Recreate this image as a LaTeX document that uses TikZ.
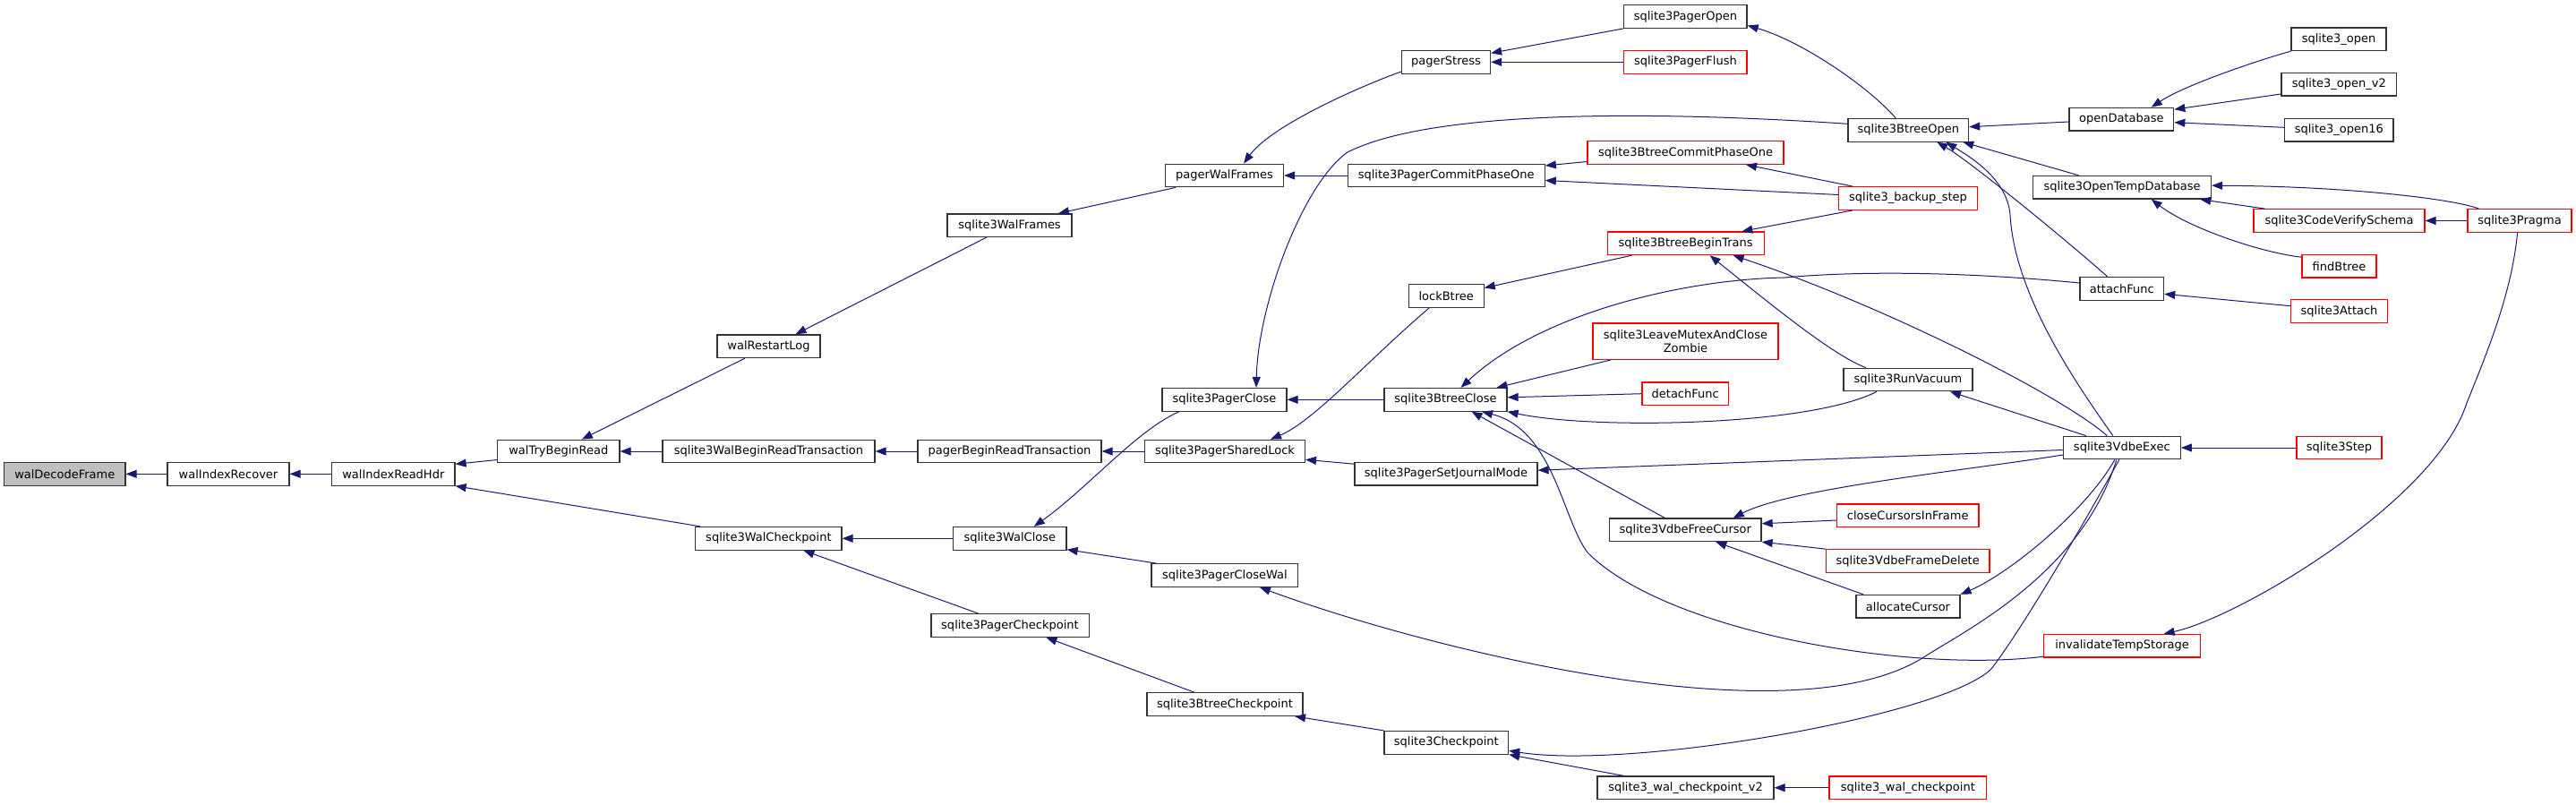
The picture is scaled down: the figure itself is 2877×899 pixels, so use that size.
\documentclass[tikz,border=0pt]{standalone}
\usepackage{fontspec}
\setmainfont{DejaVu Sans}
\usetikzlibrary{arrows.meta,calc}
\definecolor{edgecol}{RGB}{25,25,112}
\definecolor{boxgray}{RGB}{191,191,191}
\begin{document}
\begin{tikzpicture}[x=1pt,y=-1pt,
  box/.style={draw=black!80, line width=1.2pt, minimum height=25.6pt, inner sep=0pt, fill=white, font=\fontsize{13}{15}\selectfont, align=center},
  redbox/.style={box, draw=red},
  edge/.style={draw=edgecol, line width=1pt, -{Triangle[length=12pt,width=9pt]}}]
\useasboundingbox (0,0) rectangle (2877,899);
% nodes
\node[box, fill=boxgray, minimum width=135.4pt] (wdf) at (72.3,529.3) {walDecodeFrame};
\node[box, minimum width=136pt] (wir) at (255,529.3) {walIndexRecover};
\node[box, minimum width=137.4pt] (wirh) at (439.3,529.3) {walIndexReadHdr};
\node[box, minimum width=136.4pt] (wtbr) at (623.8,504) {walTryBeginRead};
\node[box, minimum width=115pt] (wrl) at (858.5,386.7) {walRestartLog};
\node[box, minimum width=139pt] (swf) at (1127.5,251.7) {sqlite3WalFrames};
\node[box, minimum width=132pt] (pwf) at (1367.5,196) {pagerWalFrames};
\node[box, minimum width=99pt] (pst) at (1615,69.3) {pagerStress};
\node[box, minimum width=137.3pt] (spo) at (1882.4,18.5) {sqlite3PagerOpen};
\node[redbox, minimum width=137.3pt] (spf) at (1882.4,69.3) {sqlite3PagerFlush};
\node[box, minimum width=134.7pt] (sbo) at (2131.3,145.3) {sqlite3BtreeOpen};
\node[box, minimum width=220pt] (spcp) at (1615.2,196) {sqlite3PagerCommitPhaseOne};
\node[redbox, minimum width=219pt] (sbcp) at (1882.5,170.5) {sqlite3BtreeCommitPhaseOne};
\node[redbox, minimum width=154.6pt] (sbs) at (2131,221.5) {sqlite3\_backup\_step};
\node[redbox, minimum width=175pt] (sbbt) at (1882.6,271.8) {sqlite3BtreeBeginTrans};
\node[box, minimum width=84pt] (lbt) at (1615.2,330.5) {lockBtree};
\node[redbox, minimum width=207pt, minimum height=40.3pt] (slm) at (1882.5,381.2) {sqlite3LeaveMutexAndClose\\Zombie};
\node[box, minimum width=144pt] (srv) at (2131,424) {sqlite3RunVacuum};
\node[box, minimum width=139pt] (spc) at (1367.5,446.3) {sqlite3PagerClose};
\node[box, minimum width=137pt] (sbc) at (1614.5,446.3) {sqlite3BtreeClose};
\node[redbox, minimum width=96.4pt] (dtf) at (1882.2,439.7) {detachFunc};
\node[box, minimum width=237pt] (swbrt) at (858.5,504) {sqlite3WalBeginReadTransaction};
\node[box, minimum width=205pt] (pbrt) at (1127.5,504) {pagerBeginReadTransaction};
\node[box, minimum width=178.8pt] (spsl) at (1368,504) {sqlite3PagerSharedLock};
\node[box, minimum width=204pt] (spsjm) at (1615,529.2) {sqlite3PagerSetJournalMode};
\node[box, minimum width=169.5pt] (svfc) at (1882.3,591.8) {sqlite3VdbeFreeCursor};
\node[redbox, minimum width=158.6pt] (ccif) at (2130.7,575.7) {closeCursorsInFrame};
\node[redbox, minimum width=182.5pt] (svfd) at (2130.7,626.5) {sqlite3VdbeFrameDelete};
\node[box, minimum width=116pt] (alc) at (2131,677.2) {allocateCursor};
\node[box, minimum width=163.3pt] (swcp) at (858.4,601.3) {sqlite3WalCheckpoint};
\node[box, minimum width=126.4pt] (swc) at (1127.8,601.3) {sqlite3WalClose};
\node[box, minimum width=163.7pt] (spcw) at (1367.9,642.5) {sqlite3PagerCloseWal};
\node[box, minimum width=176.2pt] (spcpt) at (1128,698.5) {sqlite3PagerCheckpoint};
\node[box, minimum width=174pt] (sbcpt) at (1368,786.5) {sqlite3BtreeCheckpoint};
\node[box, minimum width=138.6pt] (scp) at (1615.3,829.3) {sqlite3Checkpoint};
\node[box, minimum width=197pt] (swcv) at (1882.5,879.7) {sqlite3\_wal\_checkpoint\_v2};
\node[redbox, minimum width=175.6pt] (swcpt) at (2130.8,879.7) {sqlite3\_wal\_checkpoint};
\node[box, minimum width=116.7pt] (odb) at (2369.4,133.2) {openDatabase};
\node[box, minimum width=106pt] (sop) at (2612,43.8) {sqlite3\_open};
\node[box, minimum width=128.6pt] (sopv) at (2612.3,94.2) {sqlite3\_open\_v2};
\node[box, minimum width=121.5pt] (sop16) at (2612.3,145.2) {sqlite3\_open16};
\node[box, minimum width=199pt] (sotd) at (2370,209.2) {sqlite3OpenTempDatabase};
\node[redbox, minimum width=191pt] (scvs) at (2612.5,246.5) {sqlite3CodeVerifySchema};
\node[redbox, minimum width=116pt] (spr) at (2814,246.5) {sqlite3Pragma};
\node[redbox, minimum width=83pt] (fbt) at (2612.5,297.2) {findBtree};
\node[box, minimum width=93.6pt] (atf) at (2369.8,322.5) {attachFunc};
\node[redbox, minimum width=108pt] (sat) at (2612.5,347.5) {sqlite3Attach};
\node[box, minimum width=131pt] (sve) at (2369.8,500) {sqlite3VdbeExec};
\node[redbox, minimum width=95pt] (sst) at (2612.5,500) {sqlite3Step};
\node[redbox, minimum width=174.4pt] (its) at (2370,721.2) {invalidateTempStorage};
% edges
\draw[edge] (wir.west) -- (wdf.east);
\draw[edge] (wirh.west) -- (wir.east);
\draw[edge] ($(wtbr.west)+(0,9.5)$) -- ($(wirh.east)+(0,-11)$);
\draw[edge] ($(swcp.north west)+(6,0)$) -- (wirh.south east);
\draw[edge] ($(wrl.south)+(-26.5,0)$) -- ($(wtbr.north)+(26,0)$);
\draw[edge] (swbrt.west) -- (wtbr.east);
\draw[edge] ($(swf.south)+(-25.7,0)$) -- ($(wrl.north)+(30,0)$);
\draw[edge] ($(pwf.south)+(-54.5,0)$) -- ($(swf.north)+(54.5,0)$);
\draw[edge] ($(pst.west)+(0,10.7)$) .. controls (1520,96) and (1420,140) .. ($(pwf.north)+(21.5,0)$);
\draw[edge] (spcp.west) -- (pwf.east);
\draw[edge] (spo.south west) -- ($(pst.east)+(0,-10)$);
\draw[edge] (spf.west) -- (pst.east);
\draw[edge] ($(sbo.north)+(-14,0)$) .. controls (2085,95) and (2010,45) .. ($(spo.east)+(0,10)$);
\draw[edge] ($(sbcp.west)+(0,10)$) -- ($(spcp.east)+(0,-11)$);
\draw[edge] ($(sbs.west)+(0,-4)$) -- ($(spcp.east)+(0,5.5)$);
\draw[edge] ($(sbs.north west)+(16,0)$) -- ($(sbcp.south)+(67.5,0)$);
\draw[edge] ($(sbs.south west)+(16,0)$) -- ($(sbbt.north)+(62.7,0)$);
\draw[edge] ($(sbo.west)+(0,-7)$) .. controls (1850,124) and (1600,122) .. (1505,170) .. controls (1455,205) and (1405,340) .. ($(spc.north)+(35.5,0)$);
\draw[edge] (pbrt.west) -- (swbrt.east);
\draw[edge] (spsl.west) -- (pbrt.east);
\draw[edge] ($(spc.south west)+(19.6,0)$) .. controls (1270,480) and (1215,545) .. ($(swc.north)+(27,0)$);
\draw[edge] (swc.west) -- (swcp.east);
\draw[edge] ($(spcw.north west)+(6,0)$) -- ($(swc.south east)+(0,-1)$);
\draw[edge] ($(spcpt.north)+(-35.4,0)$) -- ($(swcp.south)+(39,0)$);
\draw[edge] ($(sbcpt.north)+(-34.3,0)$) -- ($(spcpt.south)+(40.4,0)$);
\draw[edge] (scp.north west) -- ($(sbcpt.south east)+(-9.6,0)$);
\draw[edge] (sbc.west) -- (spc.east);
\draw[edge] ($(lbt.south)+(-19,0)$) .. controls (1530,400) and (1468,470) .. ($(spsl.north)+(51,0)$);
\draw[edge] ($(sbbt.south west)+(28,0)$) -- ($(lbt.east)+(0,-9)$);
\draw[edge] ($(spsjm.west)+(0,-11)$) -- ($(spsl.east)+(0,9.3)$);
\draw[edge] ($(sve.west)+(0,2.5)$) -- ($(spsjm.east)+(0,-4)$);
\draw[edge] ($(atf.west)+(0,-6.5)$) .. controls (2200,304) and (2080,302) .. (1993,310) .. controls (1880,312) and (1720,350) .. ($(sbc.north)+(17,0)$);
\draw[edge] ($(slm.south west)+(20.6,0)$) -- ($(sbc.north)+(57,0)$);
\draw[edge] (dtf.west) -- ($(sbc.east)+(0,-2.5)$);
\draw[edge] ($(srv.south)+(-35,0)$) .. controls (2020,476) and (1780,480) .. (sbc.south east);
\draw[edge] ($(svfc.north)+(-23,0)$) -- ($(sbc.south)+(29,0)$);
\draw[edge] ($(its.west)+(0,12)$) .. controls (2130,752) and (1860,705) .. (1773,617) .. controls (1745,580) and (1735,480) .. ($(sbc.south)+(40.5,0)$);
\draw[edge] ($(srv.north)+(-47,0)$) .. controls (2050,398) and (1990,350) .. ($(sbbt.south)+(27,0)$);
\draw[edge] ($(sve.north)+(-16.5,0)$) .. controls (2300,440) and (2100,340) .. ($(sbbt.south)+(53,0)$);
\draw[edge] ($(sve.north)+(-40,0)$) -- ($(srv.south)+(47,0)$);
\draw[edge] ($(sve.west)+(0,8)$) .. controls (2200,525) and (2000,545) .. ($(svfc.north)+(53.4,0)$);
\draw[edge] ($(ccif.west)+(0,5.3)$) -- ($(svfc.east)+(0,-7)$);
\draw[edge] (svfd.north west) -- (svfc.south east);
\draw[edge] ($(alc.north west)+(8.6,0)$) -- ($(svfc.south)+(34,0)$);
\draw[edge] ($(sve.south)+(-8,0)$) .. controls (2330,570) and (2245,640) .. (alc.north east);
\draw[edge] ($(sve.south)+(-3,0)$) .. controls (2330,580) and (2260,700) .. (2224,747) .. controls (2170,800) and (1820,860) .. ($(scp.east)+(0,9)$);
\draw[edge] ($(swcv.north west)+(29.7,0)$) -- (scp.south east);
\draw[edge] (swcpt.west) -- (swcv.east);
\draw[edge] ($(odb.west)+(0,2.8)$) -- ($(sbo.east)+(0,-3.6)$);
\draw[edge] ($(sotd.north)+(-48.5,0)$) -- ($(sbo.south east)+(-7,0)$);
\draw[edge] ($(atf.north)+(-16,0)$) .. controls (2310,270) and (2200,180) .. ($(sbo.south)+(32,0)$);
\draw[edge] ($(sve.north)+(-10,0)$) .. controls (2320,430) and (2250,330) .. (2245,240) .. controls (2242,200) and (2200,175) .. ($(sbo.south)+(42,0)$);
\draw[edge] (sop.south west) .. controls (2520,68) and (2440,95) .. ($(odb.north)+(33.3,0)$);
\draw[edge] ($(sopv.west)+(0,10.8)$) -- ($(odb.east)+(0,-11)$);
\draw[edge] ($(sop16.west)+(0,-2.9)$) -- ($(odb.east)+(0,3.5)$);
\draw[edge] ($(spr.north west)+(13,0)$) .. controls (2740,222) and (2620,208) .. ($(sotd.east)+(0,-2)$);
\draw[edge] ($(scvs.north west)+(13,0)$) -- ($(sotd.south east)+(-13,0)$);
\draw[edge] ($(fbt.west)+(0,-10)$) .. controls (2525,282) and (2445,255) .. ($(sotd.south)+(32.7,0)$);
\draw[edge] (spr.west) -- (scvs.east);
\draw[edge] ($(sat.west)+(0,-5.8)$) -- ($(atf.east)+(0,5.8)$);
\draw[edge] (sst.west) -- (sve.east);
\draw[edge] ($(spr.south)+(-2.4,0)$) .. controls (2805,330) and (2775,400) .. (2755,450) .. controls (2720,560) and (2500,690) .. ($(its.north)+(46.6,0)$);
\draw[edge] ($(sve.south)+(-6,0)$) .. controls (2325,640) and (2195,704) .. (2150,733) .. controls (2000,830) and (1580,720) .. ($(spcw.south)+(39,0)$);
\end{tikzpicture}
\end{document}
